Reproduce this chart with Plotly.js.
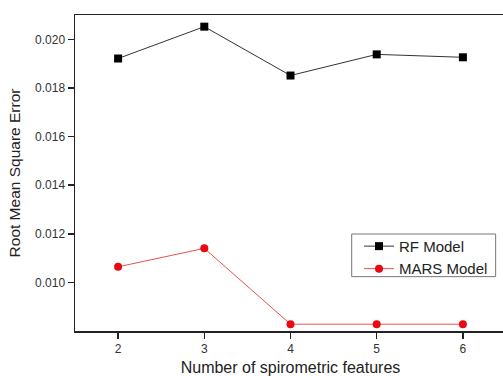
<!DOCTYPE html>
<html>
<head>
<meta charset="utf-8">
<script src="https://cdn.plot.ly/plotly-3.0.1.min.js"></script>
<style>
html,body{margin:0;padding:0;overflow:hidden;background:#fff;width:503px;height:376px;}
#chart{width:510px;height:376px;}
</style>
</head>
<body>
<div id="chart"></div>
<script>
const features = [2, 3, 4, 5, 6];
const rfModel = [0.01921, 0.02052, 0.01851, 0.01938, 0.01926];
const marsModel = [0.01064, 0.0114, 0.00828, 0.00828, 0.00828];
const yTicks = [0.010, 0.012, 0.014, 0.016, 0.018, 0.020];

const traces = [
  {
    x: features, y: rfModel, name: 'RF Model', type: 'scatter', mode: 'lines+markers',
    line: {color: '#333', width: 1},
    marker: {symbol: 'square', size: 8, color: '#000'}
  },
  {
    x: features, y: marsModel, name: 'MARS Model', type: 'scatter', mode: 'lines+markers',
    line: {color: '#e5534d', width: 1},
    marker: {symbol: 'circle', size: 8, color: '#e80a10'}
  }
];

const layout = {
  width: 510, height: 376,
  margin: {l: 75, r: 4, t: 15, b: 45},
  paper_bgcolor: '#fff', plot_bgcolor: '#fff',
  font: {family: 'Liberation Sans, Arial, sans-serif', color: '#333', size: 12},
  showlegend: true,
  legend: {
    x: 0.659, y: 0.320, xanchor: 'left', yanchor: 'top',
    borderwidth: 0, bgcolor: 'rgba(0,0,0,0)',
    font: {size: 15, color: '#222'}, tracegroupgap: 0
  },
  shapes: [{
    type: 'rect', xref: 'paper', yref: 'paper',
    x0: 0.642, x1: 0.976, y0: 0.172, y1: 0.307,
    line: {color: '#777', width: 1}, fillcolor: 'rgba(0,0,0,0)', layer: 'below'
  }],
  xaxis: {
    range: [1.5, 6.5], tickvals: features, ticktext: features.map(String),
    ticks: 'outside', ticklen: 6, tickwidth: 1.5, tickcolor: '#222',
    showline: true, linecolor: '#222', linewidth: 1.5, mirror: true,
    showgrid: false, zeroline: false,
    title: {text: 'Number of spirometric features', font: {size: 16, color: '#222'}, standoff: 12}
  },
  yaxis: {
    range: [0.008, 0.021], tickvals: yTicks, tickformat: '.3f',
    ticks: 'outside', ticklen: 6, tickwidth: 1.5, tickcolor: '#222',
    showline: true, linecolor: '#222', linewidth: 1.5, mirror: true,
    showgrid: false, zeroline: false,
    title: {text: 'Root Mean Square Error', font: {size: 15.5, color: '#222'}, standoff: 10}
  }
};

Plotly.newPlot('chart', traces, layout, {displayModeBar: false, staticPlot: true});
</script>
</body>
</html>
